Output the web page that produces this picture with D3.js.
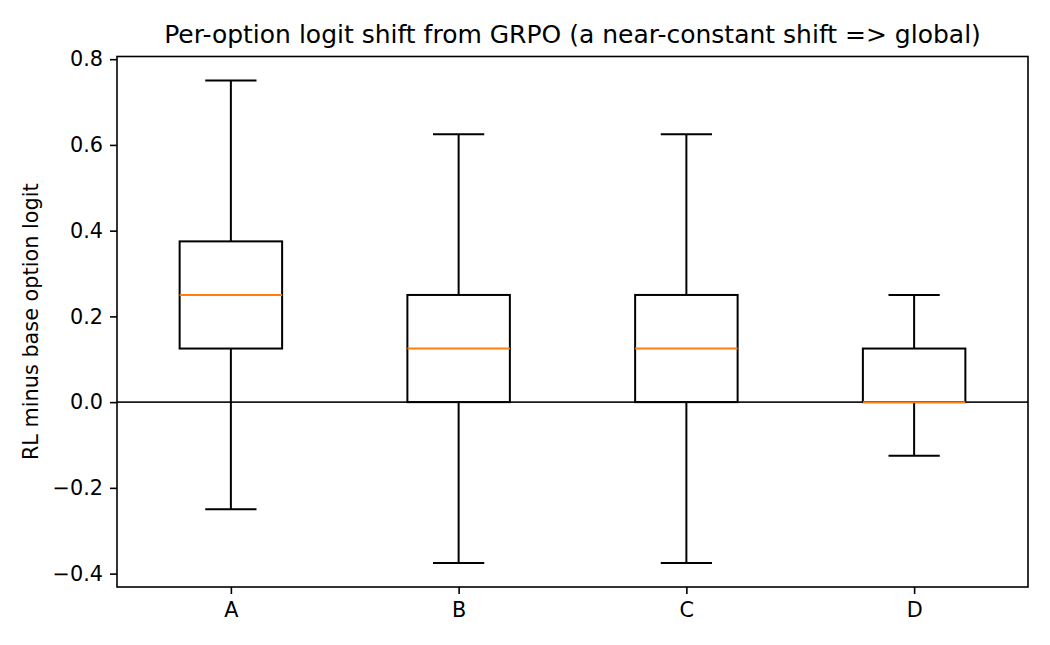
<!DOCTYPE html>
<html>
<head>
<meta charset="utf-8">
<script src="https://cdn.jsdelivr.net/npm/d3@7"></script>
<style>
  body { margin: 0; background: #fff; }
  text { font-family: "DejaVu Sans", sans-serif; fill: #000; }
</style>
</head>
<body>
<svg id="chart" width="1050" height="645"></svg>
<script>
// box stats per option
const options = ["A", "B", "C", "D"];
const whiskerLow = [-0.25, -0.375, -0.375, -0.125];
const q1 = [0.125, 0.0, 0.0, 0.0];
const medians = [0.25, 0.125, 0.125, 0.0];
const q3 = [0.375, 0.25, 0.25, 0.125];
const whiskerHigh = [0.75, 0.625, 0.625, 0.25];
const yTicks = [-0.4, -0.2, 0.0, 0.2, 0.4, 0.6, 0.8];

let width = 1050, height = 645;
let margin = { top: 56.5, right: 22, bottom: 58, left: 117 };

let svg = d3.select("#chart");

let x = d3.scaleLinear()
    .domain([0.5, options.length + 0.5])
    .range([margin.left, width - margin.right]);

// matplotlib-style 5% padding around the data range
let lo = d3.min(whiskerLow), hi = d3.max(whiskerHigh);
let pad = (hi - lo) * 0.05;
let y = d3.scaleLinear()
    .domain([lo - pad, hi + pad])
    .range([height - margin.bottom, margin.top]);

let boxW = 0.45, capW = boxW / 2;
let lw = 2;
let data = options.map((k, i) => ({
    key: k, pos: i + 1,
    lo: whiskerLow[i], q1: q1[i], med: medians[i], q3: q3[i], hi: whiskerHigh[i]
}));

// zero reference line
svg.append("line")
    .attr("x1", margin.left).attr("x2", width - margin.right)
    .attr("y1", y(0)).attr("y2", y(0))
    .attr("stroke", "#1a1a1a").attr("stroke-width", 1.6);

let g = svg.append("g").selectAll("g").data(data).join("g");

// whiskers
g.append("line")
    .attr("x1", d => x(d.pos)).attr("x2", d => x(d.pos))
    .attr("y1", d => y(d.q3)).attr("y2", d => y(d.hi))
    .attr("stroke", "#000").attr("stroke-width", lw);
g.append("line")
    .attr("x1", d => x(d.pos)).attr("x2", d => x(d.pos))
    .attr("y1", d => y(d.q1)).attr("y2", d => y(d.lo))
    .attr("stroke", "#000").attr("stroke-width", lw);

// caps
g.append("line")
    .attr("x1", d => x(d.pos - capW / 2)).attr("x2", d => x(d.pos + capW / 2))
    .attr("y1", d => y(d.hi)).attr("y2", d => y(d.hi))
    .attr("stroke", "#000").attr("stroke-width", lw);
g.append("line")
    .attr("x1", d => x(d.pos - capW / 2)).attr("x2", d => x(d.pos + capW / 2))
    .attr("y1", d => y(d.lo)).attr("y2", d => y(d.lo))
    .attr("stroke", "#000").attr("stroke-width", lw);

// boxes
g.append("rect")
    .attr("x", d => x(d.pos - boxW / 2))
    .attr("width", d => x(d.pos + boxW / 2) - x(d.pos - boxW / 2))
    .attr("y", d => y(d.q3))
    .attr("height", d => y(d.q1) - y(d.q3))
    .attr("fill", "none").attr("stroke", "#000").attr("stroke-width", lw);

// medians
g.append("line")
    .attr("x1", d => x(d.pos - boxW / 2)).attr("x2", d => x(d.pos + boxW / 2))
    .attr("y1", d => y(d.med)).attr("y2", d => y(d.med))
    .attr("stroke", "#ff7f0e").attr("stroke-width", lw);

// axes
let fmt = v => (v < 0 ? "\u2212" : "") + d3.format(".1f")(Math.abs(v));
let yAxis = d3.axisLeft(y).tickValues(yTicks).tickFormat(fmt).tickSize(7).tickPadding(7);
let xAxis = d3.axisBottom(x).tickValues(data.map(d => d.pos))
    .tickFormat((d, i) => options[i]).tickSize(7).tickPadding(8);

let gy = svg.append("g").attr("transform", `translate(${margin.left},0)`).call(yAxis);
let gx = svg.append("g").attr("transform", `translate(0,${height - margin.bottom})`).call(xAxis);
[gx, gy].forEach(a => {
    a.select(".domain").remove();
    a.selectAll(".tick line").attr("stroke", "#000").attr("stroke-width", 1.6);
    a.selectAll(".tick text").style("font-family", "DejaVu Sans").attr("font-size", 20.8).attr("fill", "#000");
});

// frame
svg.append("rect")
    .attr("x", margin.left).attr("y", margin.top)
    .attr("width", width - margin.left - margin.right)
    .attr("height", height - margin.top - margin.bottom)
    .attr("fill", "none").attr("stroke", "#000").attr("stroke-width", 1.6);

svg.append("text")
    .attr("x", (margin.left + width - margin.right) / 2).attr("y", 43)
    .attr("text-anchor", "middle").attr("font-size", 25)
    .text("Per-option logit shift from GRPO (a near-constant shift => global)");

svg.append("text")
    .attr("transform", `translate(38,${(margin.top + height - margin.bottom) / 2}) rotate(-90)`)
    .attr("text-anchor", "middle").attr("font-size", 20.8)
    .text("RL minus base option logit");
</script>
</body>
</html>
